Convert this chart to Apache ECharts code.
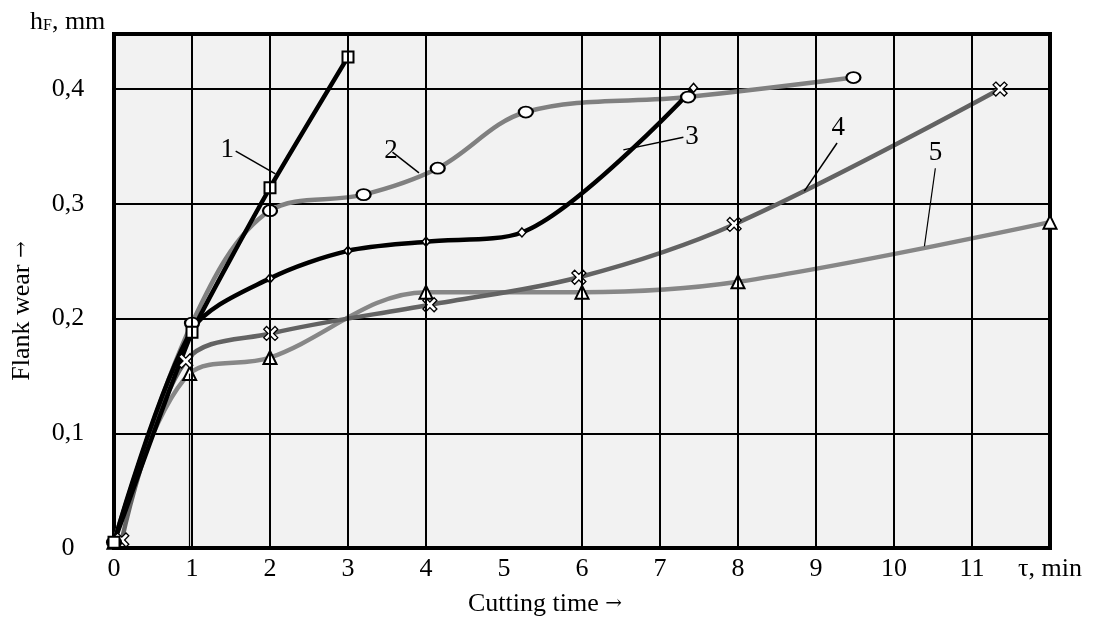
<!DOCTYPE html>
<html>
<head>
<meta charset="utf-8">
<script src="https://cdn.jsdelivr.net/npm/echarts@6/dist/echarts.min.js"></script>
<style>
  html, body { margin: 0; padding: 0; background: #fff; }
  #chart { width: 1093px; height: 617px; }
</style>
</head>
<body>
<div id="chart"></div>
<script>
// values (time in min, wear in mm)
const s1x = [0, 1, 2, 3];
const s1y = [0.005, 0.188, 0.314, 0.428];
const s2x = [0, 1, 2, 3.2, 4.15, 5.28, 7.36, 9.48];
const s2y = [0.005, 0.196, 0.294, 0.308, 0.331, 0.380, 0.393, 0.410];
const s3x = [0, 1, 2, 3, 4, 5.23, 7.43];
const s3y = [0.005, 0.19, 0.235, 0.259, 0.267, 0.275, 0.401];
const s4x = [0.1, 0.92, 2.01, 4.05, 5.96, 7.95, 11.36];
const s4y = [0.007, 0.163, 0.187, 0.212, 0.236, 0.282, 0.400];
const s5x = [0, 0.97, 2, 4, 6, 8, 12];
const s5y = [0.005, 0.152, 0.166, 0.223, 0.223, 0.232, 0.284];

const xTickLabels = ["0", "1", "2", "3", "4", "5", "6", "7", "8", "9", "10", "11", "τ, min"];
const yTickLabels = ["0", "0,1", "0,2", "0,3", "0,4"];
// vertical grid lines drawn (none at 5)
const gridX = [1, 2, 3, 4, 6, 7, 8, 9, 10, 11];

// curve number labels: [label, start x, start y, end x, end y]
const leaders = [
  ["1", 1.56, 0.346, 2.07, 0.326],
  ["2", 3.57, 0.345, 3.91, 0.327],
  ["3", 7.30, 0.358, 6.53, 0.347],
  ["4", 9.27, 0.353, 8.85, 0.311],
  ["5", 10.53, 0.331, 10.39, 0.263],
];

const font = "Liberation Serif";
const fs = 26;
const crossPath = "path://M2,0 L5,3 L8,0 L10,2 L7,5 L10,8 L8,10 L5,7 L2,10 L0,8 L3,5 L0,2 Z";

const zip = (xs, ys) => xs.map((x, i) => [x, ys[i]]);

const leaderLabel = (txt) => ({
  show: true,
  position: "start",
  distance: 2,
  formatter: txt,
  color: "#000",
  fontFamily: font,
  fontSize: 27,
});

const leaderLine = (idx) => {
  const l = leaders[idx];
  return {
    silent: true,
    symbol: ["none", "none"],
    animation: false,
    lineStyle: { color: "#000", width: 1.5, type: "solid" },
    label: leaderLabel(l[0]),
    data: [[{ coord: [l[1], l[2]] }, { coord: [l[3], l[4]] }]],
  };
};

const makeSeries = (name, xs, ys, color, symbol, size, smooth, extra) => Object.assign({
  name: name,
  type: "line",
  data: zip(xs, ys),
  smooth: smooth,
  symbol: symbol,
  symbolSize: size,
  showAllSymbol: true,
  lineStyle: { color: color, width: 4.5 },
  itemStyle: { color: "#fff", borderColor: "#000", borderWidth: 2 },
  z: 3,
}, extra || {});

const chart = echarts.init(document.getElementById("chart"));

const gridMarks = {
  silent: true,
  symbol: ["none", "none"],
  animation: false,
  label: { show: false },
  lineStyle: { color: "#000", width: 2, type: "solid" },
  data: gridX.map((x) => ({ xAxis: x })),
};

const s5 = makeSeries("5", s5x, s5y, "#878787", "triangle", 13, 0.35, {
  markLine: {
    silent: true,
    symbol: ["none", "none"],
    animation: false,
    label: { show: false },
    lineStyle: { color: "#000", width: 1.2, type: "solid" },
    data: [
      [{ coord: [s5x[1], 0] }, { coord: [s5x[1], s5y[1]] }],
      [{ coord: [leaders[4][1], leaders[4][2]], label: leaderLabel(leaders[4][0]) },
       { coord: [leaders[4][3], leaders[4][4]] }],
    ],
  },
});

const nameRich = {
  t: { fontFamily: font, fontSize: fs, fill: "#000", color: "#000" },
  a: { fontFamily: "DejaVu Serif", fontSize: 20, fill: "#000", color: "#000" },
};

chart.setOption({
  animation: false,
  backgroundColor: "#fff",
  title: {
    text: "{h|h}{f|F}{h|, mm}",
    left: 25,
    top: 4,
    textStyle: {
      fontWeight: "normal",
      rich: {
        h: { fontFamily: font, fontSize: fs, fontWeight: "normal", color: "#000" },
        f: { fontFamily: font, fontSize: 16, fontWeight: "normal", color: "#000", padding: [8, 0, 0, 0] },
      },
    },
  },
  graphic: [
    {
      type: "text",
      x: 22,
      y: 311,
      rotation: Math.PI / 2,
      style: {
        text: "{t|Flank wear }{a|→}",
        rich: nameRich,
        align: "center",
        verticalAlign: "middle",
      },
    },
    {
      type: "text",
      x: 545,
      y: 604,
      style: {
        text: "{t|Cutting time }{a|→}",
        rich: nameRich,
        align: "center",
        verticalAlign: "middle",
      },
    },
  ],
  grid: {
    left: 114,
    right: 43,
    top: 34,
    bottom: 69,
    show: true,
    backgroundColor: "#f2f2f2",
    borderColor: "#000",
    borderWidth: 4,
  },
  xAxis: {
    type: "value",
    min: 0,
    max: 12,
    interval: 1,
    axisLine: { show: false },
    axisTick: { show: false },
    splitLine: { show: false },
    axisLabel: {
      margin: 8,
      fontFamily: font,
      fontSize: fs,
      color: "#000",
      formatter: (v) => xTickLabels[Math.round(v)] || "",
    },
  },
  yAxis: {
    type: "value",
    min: 0,
    max: 0.448,
    interval: 0.1,
    axisLine: { show: false },
    axisTick: { show: false },
    splitLine: { show: true, lineStyle: { color: "#000", width: 2 } },
    axisLabel: {
      margin: 46,
      align: "center",
      fontFamily: font,
      fontSize: fs,
      color: "#000",
      formatter: (v) => {
        const k = v * 10;
        if (Math.abs(k - Math.round(k)) > 1e-6) return "";
        return yTickLabels[Math.round(k)] || "";
      },
    },
  },
  series: [
    {
      type: "line",
      data: [],
      markLine: gridMarks,
      z: 1,
    },
    s5,
    makeSeries("4", s4x, s4y, "#636363", crossPath, 14, 0.35, {
      itemStyle: { color: "#fff", borderColor: "#000", borderWidth: 1.3 },
      markLine: leaderLine(3),
    }),
    makeSeries("2", s2x, s2y, "#808080", "circle", [14, 11], 0.35, { markLine: leaderLine(1) }),
    makeSeries("3", s3x, s3y, "#000", "diamond", [8, 9], 0.3, {
      itemStyle: { color: "#fff", borderColor: "#000", borderWidth: 1.5 },
      markLine: leaderLine(2),
    }),
    makeSeries("1", s1x, s1y, "#000", "rect", 11, 0.15, { markLine: leaderLine(0) }),
  ],
});

window.addEventListener("resize", () => chart.resize());
</script>
</body>
</html>
